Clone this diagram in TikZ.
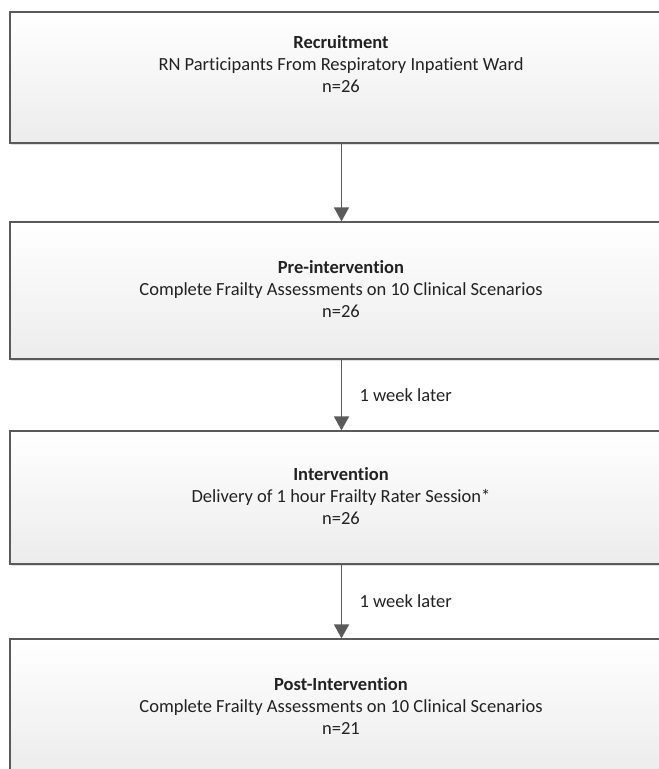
\documentclass[tikz,border=0pt]{standalone}
\usepackage{fontspec}
\setmainfont{Carlito}[Ligatures=CommonOff]
\usetikzlibrary{arrows.meta,shadows}
\definecolor{boxline}{HTML}{5A5A5A}
\definecolor{boxfill}{HTML}{ECECEC}
\definecolor{textgray}{HTML}{222222}
\tikzset{
  stage/.style={draw=boxline, line width=1.3pt, top color=white, bottom color=boxfill,
    minimum width=663pt, inner sep=0pt,
    drop shadow={shadow xshift=1pt, shadow yshift=-2pt, opacity=0.25}},
  stagetext/.style={align=center, text=textgray, font=\fontsize{18.5}{22}\selectfont},
  flow/.style={draw=boxline, line width=1.5pt, -{Triangle[width=15pt,length=14pt]}},
  delay/.style={anchor=west, text=textgray, font=\fontsize{18.5}{22}\selectfont}
}
\begin{document}
\begin{tikzpicture}[x=1pt, y=-1pt]
  \useasboundingbox (0,0) rectangle (659,769);

  %caixas
  \node[stage, minimum height=131pt] (recruit) at (341.5, 77.5) {};
  \node[stage, minimum height=137pt] (pre) at (341.5, 290.5) {};
  \node[stage, minimum height=133pt] (inter) at (341.5, 497.5) {};
  \node[stage, minimum height=132pt] (post) at (341.5, 705) {};

  %textos
  \node[stagetext] (recruittext) at (341, 64) {\textbf{Recruitment}\\RN Participants From Respiratory Inpatient Ward\\n=26};
  \node[stagetext] (pretext) at (341, 289) {\textbf{Pre-intervention}\\Complete Frailty Assessments on 10 Clinical Scenarios\\n=26};
  \node[stagetext] (intertext) at (341, 496) {\textbf{Intervention}\\Delivery of 1 hour Frailty Rater Session*\\n=26};
  \node[stagetext] (posttext) at (341, 705.5) {\textbf{Post-Intervention}\\Complete Frailty Assessments on 10 Clinical Scenarios\\n=21};

  %setas
  \draw[flow] (recruit) -- (pre);
  \draw[flow] (pre) -- (inter) node[delay, pos=0.5, xshift=14pt] (week1) {1 week later};
  \draw[flow] (inter) -- (post) node[delay, pos=0.5, xshift=14pt] (week2) {1 week later};
\end{tikzpicture}
\end{document}
